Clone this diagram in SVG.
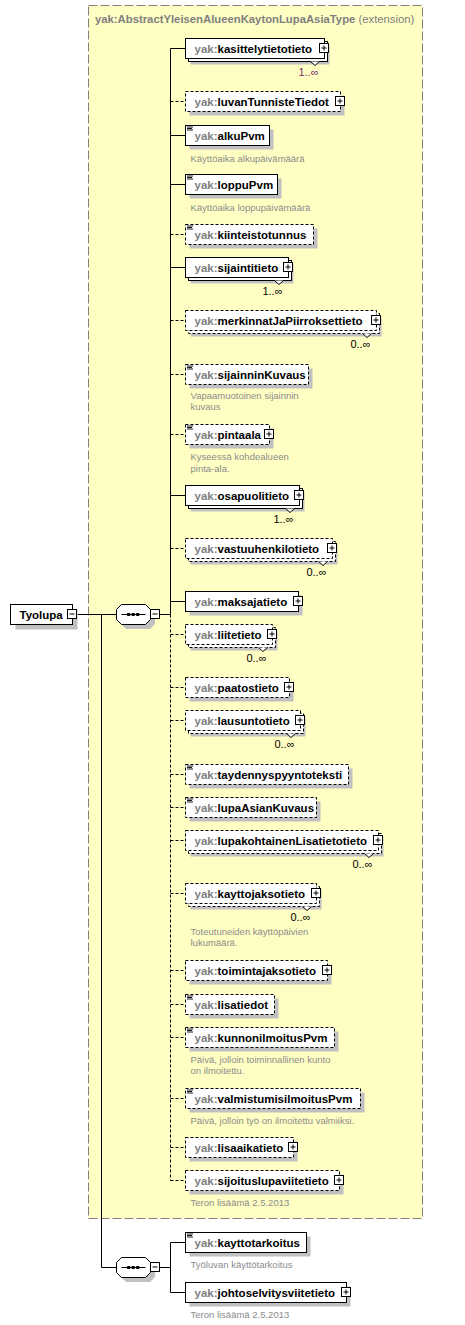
<svg xmlns="http://www.w3.org/2000/svg" xmlns:xlink="http://www.w3.org/1999/xlink" width="465" height="1325" viewBox="0 0 465 1325">
<style>
.bg{fill:#fff}
.ext{fill:#FFFFC4;stroke:#808080;stroke-width:1;stroke-dasharray:9 3}
.box{fill:#fff;stroke:#000;stroke-width:1}
.opt{stroke-dasharray:3 2}
.sh{fill:#C0C0C0}
.ln{stroke:#000;stroke-width:1;fill:none}
.dl{stroke:#000;stroke-width:1;fill:none;stroke-dasharray:3 2}
.lbl{font-family:"Liberation Sans",Arial,sans-serif;font-weight:bold;font-size:11.5px;fill:#000}
.ns{fill:#808080}
.ttl{font-family:"Liberation Sans",Arial,sans-serif;font-size:11.3px;fill:#808080}
.desc{font-family:"Liberation Sans",Arial,sans-serif;font-size:9.5px;fill:#8C8C8C}
.mult{font-family:"Liberation Sans",Arial,sans-serif;font-size:11px;fill:#000;text-anchor:end}
.notch{fill:#fff;stroke:#000;stroke-width:1}
</style>
<defs>
<g id="plus"><rect x="-5" y="-5" width="9" height="9" class="box"/><path d="M-3 -0.5H2M-0.5 -3V2" class="ln"/></g>
<g id="minus"><rect x="-5" y="-5" width="9" height="9" class="box"/><path d="M-3 -0.5H2" class="ln"/></g>
<g id="icon"><path d="M1.5 1.5H7.5M1.5 3H6.5M1.5 4.5H7.5" stroke="#000" stroke-width="0.9" fill="none"/></g>
<g id="seq">
<polygon points="10,5 34,5 39,10 39,20 34,25 10,25 5,20 5,10" class="sh"/>
<polygon points="5.5,0.5 29.5,0.5 34.5,5.5 34.5,15.5 29.5,20.5 5.5,20.5 0.5,15.5 0.5,5.5" class="box"/>
<path d="M5.5 10.5H29.5" class="ln"/>
<rect x="11.2" y="9" width="3" height="3" fill="#000"/>
<rect x="15.7" y="9" width="3" height="3" fill="#000"/>
<rect x="20.2" y="9" width="3" height="3" fill="#000"/>
</g>
</defs>
<rect x="0" y="0" width="465" height="1325" class="bg"/>

<g id="extension">
<rect x="88.5" y="5.5" width="334" height="1213" class="ext"/>
<text x="95" y="23" class="ttl"><tspan font-weight="bold">yak:AbstractYleisenAlueenKaytonLupaAsiaType</tspan> (extension)</text>
</g>

<g id="connectors">
<path d="M77.5 614.5H116" class="ln"/>
<path d="M101.5 614.5V1267.5H116" class="ln"/>
<path d="M159.5 614.5H170.5" class="ln"/>
<path d="M170.5 48.5V614.5" class="ln"/>
<path d="M170.5 614.5V1180.5" class="dl"/>
<path d="M170.5 48.5H185.5M170.5 135.5H185.5M170.5 184.5H185.5M170.5 267.5H185.5M170.5 495.5H185.5M170.5 601.5H185.5" class="ln"/>
<path d="M170.5 101.5H185.5M170.5 234.5H185.5M170.5 320.5H185.5M170.5 374.5H185.5M170.5 434.5H185.5M170.5 548.5H185.5M170.5 634.5H185.5M170.5 687.5H185.5M170.5 720.5H185.5M170.5 774.5H185.5M170.5 807.5H185.5M170.5 840.5H185.5M170.5 893.5H185.5M170.5 970.5H185.5M170.5 1004.5H185.5M170.5 1037.5H185.5M170.5 1098.5H185.5M170.5 1147.5H185.5M170.5 1180.5H185.5" class="dl"/>
<path d="M159.5 1267.5H170.5M170.5 1242.5V1292.5M170.5 1242.5H185.5M170.5 1292.5H185.5" class="ln"/>
</g>

<g id="Tyolupa">
<rect x="15.5" y="609.5" width="62" height="20" class="sh"/>
<rect x="10.5" y="604.5" width="62" height="20" class="box"/>
<text x="19.5" y="618.5" class="lbl" font-size="11px">Tyolupa</text>
<use xlink:href="#minus" x="72.5" y="614.5"/>
</g>

<g id="sequence1">
<use xlink:href="#seq" x="116" y="604"/>
<use xlink:href="#minus" x="155.5" y="614.5"/>
</g>

<g id="sequence2">
<use xlink:href="#seq" x="116" y="1257"/>
<use xlink:href="#minus" x="155.5" y="1267.5"/>
</g>

<g id="kasittelytietotieto">
<rect x="190.5" y="44.5" width="139" height="20" class="sh"/>
<rect x="188.5" y="41.5" width="139" height="20" class="box"/>
<rect x="185.5" y="38.5" width="139" height="20" class="box"/>
<text x="194.5" y="52.5" class="lbl"><tspan class="ns">yak:</tspan>kasittelytietotieto</text>
<use xlink:href="#plus" x="324.5" y="48.5"/>
<polyline points="310.5,61.5 315,65.5 319.5,61.5" class="notch"/>
<text x="318.5" y="75.5" class="mult" fill="#7B2D6B" style="fill:#7B2D6B">1..∞</text>
</g>

<g id="luvanTunnisteTiedot">
<rect x="189.5" y="95.5" width="155" height="20" class="sh"/>
<rect x="185.5" y="91.5" width="155" height="20" class="box opt"/>
<text x="194.5" y="105.5" class="lbl"><tspan class="ns">yak:</tspan>luvanTunnisteTiedot</text>
<use xlink:href="#plus" x="340.5" y="101.5"/>
</g>

<g id="alkuPvm">
<rect x="189.5" y="129.5" width="84" height="20" class="sh"/>
<rect x="185.5" y="125.5" width="84" height="20" class="box"/>
<use xlink:href="#icon" x="185.5" y="125.5"/>
<text x="194.5" y="139.5" class="lbl"><tspan class="ns">yak:</tspan>alkuPvm</text>
<text x="190.5" y="161.5" class="desc">Käyttöaika alkupäivämäärä</text>
</g>

<g id="loppuPvm">
<rect x="189.5" y="178.5" width="92" height="20" class="sh"/>
<rect x="185.5" y="174.5" width="92" height="20" class="box"/>
<use xlink:href="#icon" x="185.5" y="174.5"/>
<text x="194.5" y="188.5" class="lbl"><tspan class="ns">yak:</tspan>loppuPvm</text>
<text x="190.5" y="210.5" class="desc">Käyttöaika loppupäivämäärä</text>
</g>

<g id="kiinteistotunnus">
<rect x="189.5" y="228.5" width="128" height="20" class="sh"/>
<rect x="185.5" y="224.5" width="128" height="20" class="box opt"/>
<use xlink:href="#icon" x="185.5" y="224.5"/>
<text x="194.5" y="238.5" class="lbl"><tspan class="ns">yak:</tspan>kiinteistotunnus</text>
</g>

<g id="sijaintitieto">
<rect x="190.5" y="263.5" width="103" height="20" class="sh"/>
<rect x="188.5" y="260.5" width="103" height="20" class="box"/>
<rect x="185.5" y="257.5" width="103" height="20" class="box"/>
<text x="194.5" y="271.5" class="lbl"><tspan class="ns">yak:</tspan>sijaintitieto</text>
<use xlink:href="#plus" x="288.5" y="267.5"/>
<polyline points="274.5,280.5 279,284.5 283.5,280.5" class="notch"/>
<text x="282.5" y="294.5" class="mult">1..∞</text>
</g>

<g id="merkinnatJaPiirroksettieto">
<rect x="190.5" y="316.5" width="191" height="20" class="sh"/>
<rect x="188.5" y="313.5" width="191" height="20" class="box opt"/>
<rect x="185.5" y="310.5" width="191" height="20" class="box opt"/>
<text x="194.5" y="324.5" class="lbl"><tspan class="ns">yak:</tspan>merkinnatJaPiirroksettieto</text>
<use xlink:href="#plus" x="376.5" y="320.5"/>
<polyline points="362.5,333.5 367,337.5 371.5,333.5" class="notch"/>
<text x="370.5" y="347.5" class="mult">0..∞</text>
</g>

<g id="sijainninKuvaus">
<rect x="189.5" y="368.5" width="123" height="20" class="sh"/>
<rect x="185.5" y="364.5" width="123" height="20" class="box opt"/>
<use xlink:href="#icon" x="185.5" y="364.5"/>
<text x="194.5" y="378.5" class="lbl"><tspan class="ns">yak:</tspan>sijainninKuvaus</text>
<text x="190.5" y="399" class="desc">Vapaamuotoinen sijainnin</text>
<text x="190.5" y="410.3" class="desc">kuvaus</text>
</g>

<g id="pintaala">
<rect x="189.5" y="428.5" width="84" height="20" class="sh"/>
<rect x="185.5" y="424.5" width="84" height="20" class="box opt"/>
<use xlink:href="#icon" x="185.5" y="424.5"/>
<text x="194.5" y="438.5" class="lbl"><tspan class="ns">yak:</tspan>pintaala</text>
<use xlink:href="#plus" x="269.5" y="434.5"/>
<text x="190.5" y="460" class="desc">Kyseessä kohdealueen</text>
<text x="190.5" y="471.5" class="desc">pinta-ala.</text>
</g>

<g id="osapuolitieto">
<rect x="190.5" y="491.5" width="114" height="20" class="sh"/>
<rect x="188.5" y="488.5" width="114" height="20" class="box"/>
<rect x="185.5" y="485.5" width="114" height="20" class="box"/>
<text x="194.5" y="499.5" class="lbl"><tspan class="ns">yak:</tspan>osapuolitieto</text>
<use xlink:href="#plus" x="299.5" y="495.5"/>
<polyline points="285.5,508.5 290,512.5 294.5,508.5" class="notch"/>
<text x="293.5" y="522.5" class="mult">1..∞</text>
</g>

<g id="vastuuhenkilotieto">
<rect x="190.5" y="544.5" width="147" height="20" class="sh"/>
<rect x="188.5" y="541.5" width="147" height="20" class="box opt"/>
<rect x="185.5" y="538.5" width="147" height="20" class="box opt"/>
<text x="194.5" y="552.5" class="lbl"><tspan class="ns">yak:</tspan>vastuuhenkilotieto</text>
<use xlink:href="#plus" x="332.5" y="548.5"/>
<polyline points="318.5,561.5 323,565.5 327.5,561.5" class="notch"/>
<text x="326.5" y="575.5" class="mult">0..∞</text>
</g>

<g id="maksajatieto">
<rect x="189.5" y="595.5" width="113" height="20" class="sh"/>
<rect x="185.5" y="591.5" width="113" height="20" class="box"/>
<text x="194.5" y="605.5" class="lbl"><tspan class="ns">yak:</tspan>maksajatieto</text>
<use xlink:href="#plus" x="298.5" y="601.5"/>
</g>

<g id="liitetieto">
<rect x="190.5" y="630.5" width="87" height="20" class="sh"/>
<rect x="188.5" y="627.5" width="87" height="20" class="box opt"/>
<rect x="185.5" y="624.5" width="87" height="20" class="box opt"/>
<text x="194.5" y="638.5" class="lbl"><tspan class="ns">yak:</tspan>liitetieto</text>
<use xlink:href="#plus" x="272.5" y="634.5"/>
<polyline points="258.5,647.5 263,651.5 267.5,647.5" class="notch"/>
<text x="266.5" y="661.5" class="mult">0..∞</text>
</g>

<g id="paatostieto">
<rect x="189.5" y="681.5" width="104" height="20" class="sh"/>
<rect x="185.5" y="677.5" width="104" height="20" class="box opt"/>
<text x="194.5" y="691.5" class="lbl"><tspan class="ns">yak:</tspan>paatostieto</text>
<use xlink:href="#plus" x="289.5" y="687.5"/>
</g>

<g id="lausuntotieto">
<rect x="190.5" y="716.5" width="115" height="20" class="sh"/>
<rect x="188.5" y="713.5" width="115" height="20" class="box opt"/>
<rect x="185.5" y="710.5" width="115" height="20" class="box opt"/>
<text x="194.5" y="724.5" class="lbl"><tspan class="ns">yak:</tspan>lausuntotieto</text>
<use xlink:href="#plus" x="300.5" y="720.5"/>
<polyline points="286.5,733.5 291,737.5 295.5,733.5" class="notch"/>
<text x="294.5" y="747.5" class="mult">0..∞</text>
</g>

<g id="taydennyspyyntoteksti">
<rect x="189.5" y="768.5" width="163" height="20" class="sh"/>
<rect x="185.5" y="764.5" width="163" height="20" class="box opt"/>
<use xlink:href="#icon" x="185.5" y="764.5"/>
<text x="194.5" y="778.5" class="lbl"><tspan class="ns">yak:</tspan>taydennyspyyntoteksti</text>
</g>

<g id="lupaAsianKuvaus">
<rect x="189.5" y="801.5" width="131" height="20" class="sh"/>
<rect x="185.5" y="797.5" width="131" height="20" class="box opt"/>
<use xlink:href="#icon" x="185.5" y="797.5"/>
<text x="194.5" y="811.5" class="lbl"><tspan class="ns">yak:</tspan>lupaAsianKuvaus</text>
</g>

<g id="lupakohtainenLisatietotieto">
<rect x="190.5" y="836.5" width="193" height="20" class="sh"/>
<rect x="188.5" y="833.5" width="193" height="20" class="box opt"/>
<rect x="185.5" y="830.5" width="193" height="20" class="box opt"/>
<text x="194.5" y="844.5" class="lbl"><tspan class="ns">yak:</tspan>lupakohtainenLisatietotieto</text>
<use xlink:href="#plus" x="378.5" y="840.5"/>
<polyline points="364.5,853.5 369,857.5 373.5,853.5" class="notch"/>
<text x="372.5" y="867.5" class="mult">0..∞</text>
</g>

<g id="kayttojaksotieto">
<rect x="190.5" y="889.5" width="131" height="20" class="sh"/>
<rect x="188.5" y="886.5" width="131" height="20" class="box opt"/>
<rect x="185.5" y="883.5" width="131" height="20" class="box opt"/>
<text x="194.5" y="897.5" class="lbl"><tspan class="ns">yak:</tspan>kayttojaksotieto</text>
<use xlink:href="#plus" x="316.5" y="893.5"/>
<polyline points="302.5,906.5 307,910.5 311.5,906.5" class="notch"/>
<text x="310.5" y="920.5" class="mult">0..∞</text>
<text x="190.5" y="935" class="desc">Toteutuneiden käyttöpäivien</text>
<text x="190.5" y="946.3" class="desc">lukumäärä.</text>
</g>

<g id="toimintajaksotieto">
<rect x="189.5" y="964.5" width="142" height="20" class="sh"/>
<rect x="185.5" y="960.5" width="142" height="20" class="box opt"/>
<text x="194.5" y="974.5" class="lbl"><tspan class="ns">yak:</tspan>toimintajaksotieto</text>
<use xlink:href="#plus" x="327.5" y="970.5"/>
</g>

<g id="lisatiedot">
<rect x="189.5" y="998.5" width="89" height="20" class="sh"/>
<rect x="185.5" y="994.5" width="89" height="20" class="box opt"/>
<use xlink:href="#icon" x="185.5" y="994.5"/>
<text x="194.5" y="1008.5" class="lbl"><tspan class="ns">yak:</tspan>lisatiedot</text>
</g>

<g id="kunnonilmoitusPvm">
<rect x="189.5" y="1031.5" width="149" height="20" class="sh"/>
<rect x="185.5" y="1027.5" width="149" height="20" class="box opt"/>
<use xlink:href="#icon" x="185.5" y="1027.5"/>
<text x="194.5" y="1041.5" class="lbl"><tspan class="ns">yak:</tspan>kunnonilmoitusPvm</text>
<text x="190.5" y="1062.5" class="desc">Päivä, jolloin toiminnallinen kunto</text>
<text x="190.5" y="1073.8" class="desc">on ilmoitettu.</text>
</g>

<g id="valmistumisilmoitusPvm">
<rect x="189.5" y="1092.5" width="175" height="20" class="sh"/>
<rect x="185.5" y="1088.5" width="175" height="20" class="box opt"/>
<use xlink:href="#icon" x="185.5" y="1088.5"/>
<text x="194.5" y="1102.5" class="lbl"><tspan class="ns">yak:</tspan>valmistumisilmoitusPvm</text>
<text x="190.5" y="1123.5" class="desc">Päivä, jolloin työ on ilmoitettu valmiiksi.</text>
</g>

<g id="lisaaikatieto">
<rect x="189.5" y="1141.5" width="108" height="20" class="sh"/>
<rect x="185.5" y="1137.5" width="108" height="20" class="box opt"/>
<text x="194.5" y="1151.5" class="lbl"><tspan class="ns">yak:</tspan>lisaaikatieto</text>
<use xlink:href="#plus" x="293.5" y="1147.5"/>
</g>

<g id="sijoituslupaviitetieto">
<rect x="189.5" y="1174.5" width="154" height="20" class="sh"/>
<rect x="185.5" y="1170.5" width="154" height="20" class="box opt"/>
<text x="194.5" y="1184.5" class="lbl"><tspan class="ns">yak:</tspan>sijoituslupaviitetieto</text>
<use xlink:href="#plus" x="339.5" y="1180.5"/>
<text x="190.5" y="1205.8" class="desc">Teron lisäämä 2.5.2013</text>
</g>

<g id="kayttotarkoitus">
<rect x="189.5" y="1236.5" width="121" height="20" class="sh"/>
<rect x="185.5" y="1232.5" width="121" height="20" class="box"/>
<use xlink:href="#icon" x="185.5" y="1232.5"/>
<text x="194.5" y="1246.5" class="lbl"><tspan class="ns">yak:</tspan>kayttotarkoitus</text>
<text x="190.5" y="1268.3" class="desc">Työluvan käyttötarkoitus</text>
</g>

<g id="johtoselvitysviitetieto">
<rect x="189.5" y="1286.5" width="161" height="20" class="sh"/>
<rect x="185.5" y="1282.5" width="161" height="20" class="box"/>
<text x="194.5" y="1296.5" class="lbl"><tspan class="ns">yak:</tspan>johtoselvitysviitetieto</text>
<use xlink:href="#plus" x="346.5" y="1292.5"/>
<text x="190.5" y="1317.5" class="desc">Teron lisäämä 2.5.2013</text>
</g>
</svg>
